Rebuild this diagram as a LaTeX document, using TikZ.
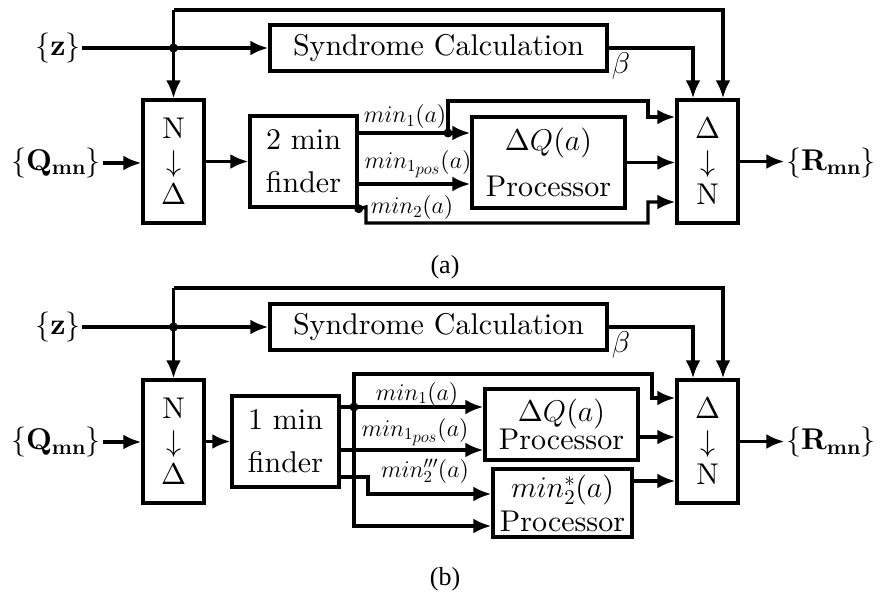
\RequirePackage{fix-cm}
\documentclass[tikz,border=0pt]{standalone}
\usepackage[no-math]{fontspec}
\setmainfont{lmroman10-regular.otf}[BoldFont=lmroman10-bold.otf,ItalicFont=lmroman10-italic.otf]
\newfontfamily\capfont{LiberationSerif-Regular.ttf}
\DeclareFontShape{OT1}{cmr}{m}{n}{<->cmr10}{}
\DeclareFontShape{OT1}{cmr}{bx}{n}{<->cmbx10}{}
\usetikzlibrary{arrows.meta}
\newcommand\tightls{\lineskiplimit=-50pt\relax\lineskip=0pt\relax}
\begin{document}
\begin{tikzpicture}[x=1pt,y=-1pt,line width=3.4pt,
  arr/.style={-{Latex[length=18pt,width=15pt]}},
  box/.style={draw,line width=3.4pt,inner sep=0pt,align=center},
  big/.style={inner sep=0pt,font=\fontsize{30}{36}\selectfont},
  lbl/.style={inner sep=0pt,font=\fontsize{24}{28}\selectfont},
  captxt/.style={inner sep=0pt,font=\capfont\fontsize{26}{30}\selectfont},
  ndbox/.style={box,minimum width=61pt,minimum height=123pt,font=\fontsize{30}{33}\selectfont},
  synbox/.style={box,minimum width=337pt,minimum height=46pt,font=\fontsize{30}{36}\selectfont},
  finderbox/.style={box,minimum width=107pt,minimum height=91pt,font=\fontsize{30}{43}\selectfont}]
\useasboundingbox (0,0) rectangle (884,599);

% ---------------- panel (a) ----------------
\node[big] (za) at (58,48) {$\{\mathbf{z}\}$};
\node[synbox] (syna) at (438.5,48) {Syndrome Calculation};
\node[ndbox] (nda) at (173.5,161.5) {N\\$\downarrow$\\$\Delta$};
\node[big] (qa) at (56,163) {$\{\mathbf{Q}_{\mathbf{mn}}\}$};
\node[finderbox] (fa) at (303.5,161.5) {2 min\\finder};
\node[box,minimum width=153pt,minimum height=91pt,font=\fontsize{30}{46}\selectfont] (pa) at (548.5,162.5) {$\Delta Q(a)$\\Processor};
\node[ndbox] (dna) at (707.5,161.5) {$\Delta$\\$\downarrow$\\N};
\node[big] (ra) at (831,163) {$\{\mathbf{R}_{\mathbf{mn}}\}$};
\node[big] (betaa) at (621,66) {$\beta$};
\node[lbl] (l1a) at (405,117) {$min_1(a)$};
\node[lbl] (l2a) at (418,164) {$min_{1_{\scriptstyle pos}}(a)$};
\node[lbl] (l3a) at (412,208) {$min_2(a)$};
\node[captxt] (capa) at (445,267) {(a)};

\coordinate (ta) at (173.5,10);
\coordinate (ja) at (173.5,48);
\coordinate (d1a) at (448,133);
\draw[arr] (za.east) -- (syna.west);
\draw[arr] (ta) -- (nda.north);
\draw[arr] (ta) -| ([xshift=15.5pt]dna.north);
\fill (ja) circle (4.5pt);
\draw[arr] (syna.east) -| ([xshift=-14.5pt]dna.north);
\draw[arr] (qa.east) -- (qa.east -| nda.west);
\draw[arr] (nda.east) -- (fa.west);
\draw[arr] (fa.east |- d1a) -- (pa.west |- d1a);
\fill (d1a) circle (4.5pt);
\draw[arr] (d1a) -- (448,101) -- (648,101) -- (648,117) -- (dna.west |- 0,117);
\draw[arr] (fa.east |- 0,184) -- (pa.west |- 0,184);
\fill (fa.south east) circle (4.5pt);
\draw[arr] (fa.south east) -- (366,207) -- (366,223) -- (648,223) -- (648,202) -- (dna.west |- 0,202);
\draw[arr] (pa.east) -- (pa.east -| dna.west);
\draw[arr] (dna.east) -- (dna.east -| ra.west);

% ---------------- panel (b) ----------------
\node[big] (zb) at (58,327) {$\{\mathbf{z}\}$};
\node[synbox] (synb) at (438.5,327) {Syndrome Calculation};
\node[ndbox] (ndb) at (173.5,441.5) {N\\$\downarrow$\\$\Delta$};
\node[big] (qb) at (56,442) {$\{\mathbf{Q}_{\mathbf{mn}}\}$};
\node[finderbox] (fb) at (285.5,441.5) {1 min\\finder};
\node[box,minimum width=153pt,minimum height=71pt,font=\fontsize{30}{28}\selectfont\tightls] (pb1) at (561.5,424.5) {$\Delta Q(a)$\\Processor};
\node[box,minimum width=139pt,minimum height=68pt,font=\fontsize{30}{34}\selectfont\tightls] (pb2) at (562.5,503) {$min_2^*(a)$\\Processor};
\node[ndbox] (dnb) at (707.5,441.5) {$\Delta$\\$\downarrow$\\N};
\node[big] (rb) at (831,442) {$\{\mathbf{R}_{\mathbf{mn}}\}$};
\node[big] (betab) at (621,345) {$\beta$};
\node[lbl] (l1b) at (417,394) {$min_1(a)$};
\node[lbl] (l2b) at (415,432) {$min_{1_{\scriptstyle pos}}(a)$};
\node[lbl] (l3b) at (425,471) {$min_2'''(a)$};
\node[captxt] (capb) at (445,579) {(b)};

\coordinate (tb) at (173.5,288);
\coordinate (jb) at (173.5,327);
\coordinate (d1b) at (354,407);
\draw[arr] (zb.east) -- (synb.west);
\draw[arr] (tb) -- (ndb.north);
\draw[arr] (tb) -| ([xshift=15.5pt]dnb.north);
\fill (jb) circle (4.5pt);
\draw[arr] (synb.east) -| ([xshift=-14.5pt]dnb.north);
\draw[arr] (qb.east) -- (qb.east -| ndb.west);
\draw[arr] (ndb.east) -- (fb.west);
\draw[arr] (fb.east |- d1b) -- (pb1.west |- d1b);
\fill (d1b) circle (4.5pt);
\draw[arr] (d1b) -- (354,374) -- (652,374) -- (652,398) -- (dnb.west |- 0,398);
\draw[arr] (d1b) -- (354,526) -- (pb2.west |- 0,526);
\draw[arr] (fb.east |- 0,450) -- (pb1.west |- 0,450);
\draw[arr] (fb.east |- 0,477) -- (368,477) -- (368,494) -- (pb2.west |- 0,494);
\draw[arr] (pb1.east |- 0,437) -- (dnb.west |- 0,437);
\draw[arr] (pb2.east |- 0,481) -- (dnb.west |- 0,481);
\draw[arr] (dnb.east) -- (dnb.east -| rb.west);
\end{tikzpicture}
\end{document}
